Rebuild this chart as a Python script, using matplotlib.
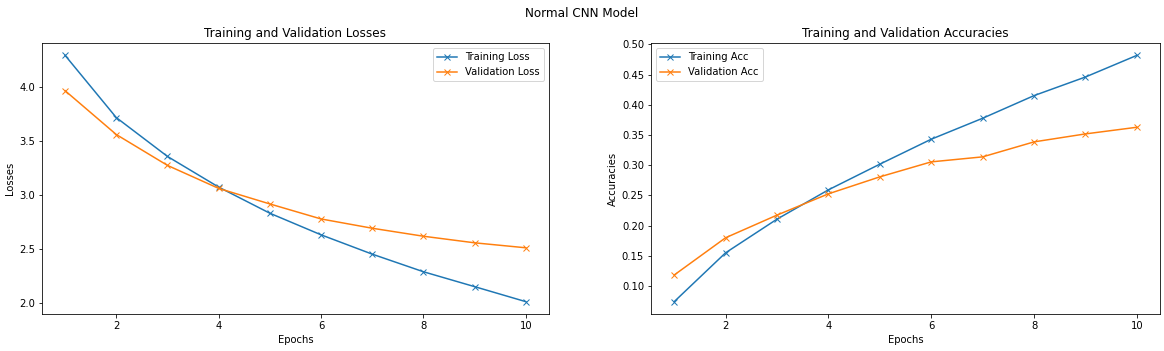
import matplotlib.pyplot as plt

epochs = [1, 2, 3, 4, 5, 6, 7, 8, 9, 10]

train_loss = [4.29, 3.714, 3.354, 3.07, 2.828, 2.628, 2.449, 2.286, 2.148, 2.009]
val_loss = [3.963, 3.557, 3.271, 3.058, 2.914, 2.775, 2.689, 2.615, 2.554, 2.508]

train_acc = [0.0741, 0.155, 0.2107, 0.2592, 0.3017, 0.343, 0.3777, 0.4152, 0.446, 0.4818]
val_acc = [0.1182, 0.1799, 0.2174, 0.2526, 0.2807, 0.3055, 0.3138, 0.3386, 0.3518, 0.3628]

fig = plt.figure(figsize=(1164 / 72, 351 / 72), dpi=72)
fig.suptitle("Normal CNN Model")

ax1 = fig.add_axes([0.0361, 0.1054, 0.4355, 0.772])
ax1.plot(epochs, train_loss, marker='x', label='Training Loss')
ax1.plot(epochs, val_loss, marker='x', label='Validation Loss')
ax1.set_title("Training and Validation Losses")
ax1.set_xlabel("Epochs")
ax1.set_ylabel("Losses")
ax1.legend(loc='upper right')

ax2 = fig.add_axes([0.5593, 0.1054, 0.4373, 0.772])
ax2.plot(epochs, train_acc, marker='x', label='Training Acc')
ax2.plot(epochs, val_acc, marker='x', label='Validation Acc')
ax2.set_title("Training and Validation Accuracies")
ax2.set_xlabel("Epochs")
ax2.set_ylabel("Accuracies")
ax2.legend(loc='upper left')

fig.savefig("out.png", dpi=72)
